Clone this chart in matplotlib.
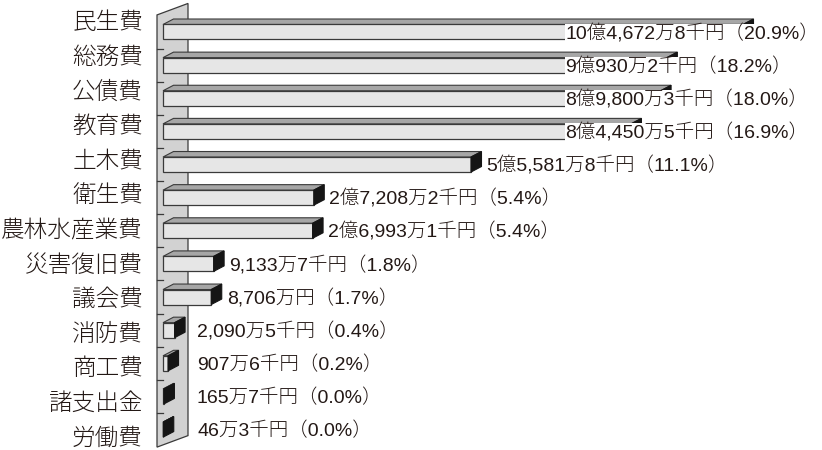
import numpy as np
import matplotlib
matplotlib.use("Agg")
import matplotlib.pyplot as plt
from matplotlib.patches import Polygon, Rectangle
from matplotlib.transforms import blended_transform_factory

plt.rcParams['font.family'] = ['Noto Sans CJK JP', 'DejaVu Sans']

# 歳出（千円）
categories = ['民生費', '総務費', '公債費', '教育費', '土木費', '衛生費', '農林水産業費',
              '災害復旧費', '議会費', '消防費', '商工費', '諸支出金', '労働費']
amounts = [1046728, 909302, 898003, 844505, 555818, 272082, 269931,
           91337, 87060, 20905, 9076, 1657, 463]
shares = [20.9, 18.2, 18.0, 16.9, 11.1, 5.4, 5.4, 1.8, 1.7, 0.4, 0.2, 0.0, 0.0]


def yen_label(v):
    oku, rest = divmod(v, 100000)
    man, sen = divmod(rest, 10)
    s = ''
    if oku:
        s += '%d億' % oku
    if man:
        s += '{:,}万'.format(man)
    if sen:
        s += '%d千' % sen
    return s + '円'


W, H = 822, 450
x0 = 163          # pixel where bars start
full = 580        # pixel length of largest bar
y0 = 32           # pixel centre of first bar
pitch = 33.13     # pixels between bars
s = max(amounts) / full

fig = plt.figure(figsize=(W / 100, H / 100), dpi=100)
ax = fig.add_axes([0, 0, 1, 1])
ax.set_xlim(-x0 * s, (W - x0) * s)
ax.set_ylim((H - y0) / pitch, -y0 / pitch)
ax.axis('off')

n = len(categories)
hh = 7.5 / pitch
ddx, ddy = 10.5 * s, -5.5 / pitch
edge = '#3a3a3a'
txt = '#231815'
val_font = dict(family=['Liberation Sans', 'Noto Sans CJK JP'], fontsize=14,
                fontweight='light', color=txt, zorder=5)

# back wall
wl, wr = -6 * s, 25 * s
wt, wb = -0.515, n - 0.47
wdy = -11.5 / pitch
ax.add_patch(Polygon([(wl, wt), (wr, wt + wdy), (wr, wb + wdy), (wl, wb)],
                     closed=True, facecolor='#d2d2d2', edgecolor=edge, lw=0.9, zorder=1))
for i in range(n - 1):
    ax.plot([wl, 0], [i + 0.5, i + 0.5], color=edge, lw=0.9, zorder=1.5)

# bars
for i, v in enumerate(amounts):
    top, bot = i - hh, i + hh
    ax.add_patch(Polygon([(0, top), (v, top), (v + ddx, top + ddy), (ddx, top + ddy)],
                         closed=True, facecolor='#a6a6a6', edgecolor=edge, lw=0.8, zorder=2))
    ax.add_patch(Rectangle((0, top), v, 2 * hh, facecolor='#e6e6e6',
                           edgecolor=edge, lw=0.9, zorder=2))
    ax.add_patch(Polygon([(v, top), (v, bot), (v + ddx, bot + ddy), (v + ddx, top + ddy)],
                         closed=True, facecolor='#151515', edgecolor='#151515', lw=0.8, zorder=3))

# category labels
tr = blended_transform_factory(fig.transFigure, ax.transData)
for i, c in enumerate(categories):
    ly = (23 + 34.58 * i - y0) / pitch
    ax.text(143 / W, ly, c, transform=tr, ha='right', va='center',
            fontsize=17, fontweight='light', color=txt)

# value labels
for i, (v, p) in enumerate(zip(amounts, shares)):
    label = yen_label(v) + '（%.1f%%）' % p
    if i < 4:
        x = (565 - x0) * s
        ax.text(x, i + 0.05, label, ha='left', va='center',
                bbox=dict(facecolor='white', edgecolor='none', pad=0.3), **val_font)
    else:
        x = max(v + ddx + 5 * s, (197 - x0) * s)
        ax.text(x, i + 0.05, label, ha='left', va='center', **val_font)

fig.savefig('out.png', dpi=100, facecolor='white')
